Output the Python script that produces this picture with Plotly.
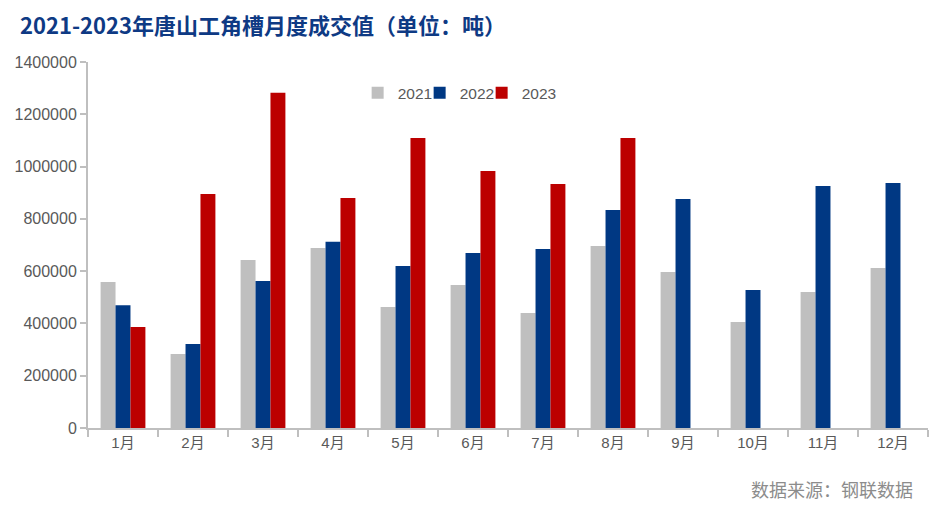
import plotly.graph_objects as go

months = ["1月", "2月", "3月", "4月", "5月", "6月", "7月", "8月", "9月", "10月", "11月", "12月"]
v2021 = [558000, 283000, 643000, 689000, 463000, 547000, 440000, 696000, 597000, 405000, 520000, 612000]
v2022 = [470000, 321000, 562000, 712000, 620000, 669000, 685000, 834000, 876000, 528000, 926000, 937000]
v2023 = [386000, 895000, 1282000, 880000, 1109000, 983000, 933000, 1109000, None, None, None, None]
y_ticks = [0, 200000, 400000, 600000, 800000, 1000000, 1200000, 1400000]

font_main = "Liberation Sans, Arial, Noto Sans CJK SC, sans-serif"

fig = go.Figure()
fig.add_trace(go.Bar(name="2021", x=months, y=v2021, marker=dict(color="#BFBFBF", line_width=0)))
fig.add_trace(go.Bar(name="2022", x=months, y=v2022, marker=dict(color="#003883", line_width=0)))
fig.add_trace(go.Bar(name="2023", x=months, y=v2023, marker=dict(color="#BC0000", line_width=0)))
# invisible spacer so the last legend text is not clipped
fig.add_trace(go.Scatter(name=" ", x=[None], y=[None], mode="markers",
                         marker=dict(color="rgba(0,0,0,0)"), hoverinfo="skip"))

fig.update_layout(
    width=929, height=499,
    margin=dict(l=80, r=9, t=54, b=79, autoexpand=False),
    paper_bgcolor="white", plot_bgcolor="white",
    barmode="group", bargap=0.36, bargroupgap=0,
    font=dict(family=font_main, color="#595959", size=16),
    legend=dict(orientation="h", x=0.321, xanchor="left", y=0.915, yanchor="middle",
                font=dict(size=15.5, color="#595959"), itemwidth=30, entrywidth=17,
                traceorder="normal", bgcolor="rgba(0,0,0,0)"),
    xaxis=dict(showline=True, linecolor="#BFBFBF", linewidth=2, ticks="outside",
               tickson="boundaries", ticklen=7, tickcolor="#BFBFBF", tickwidth=2,
               tickfont=dict(size=15, color="#595959"), showgrid=False, automargin=False),
    yaxis=dict(range=[0, 1400000], tickvals=y_ticks, ticktext=[str(v) for v in y_ticks],
               showline=True, linecolor="#BFBFBF", linewidth=2, ticks="outside",
               ticklen=6, tickcolor="#BFBFBF", tickwidth=2, showgrid=False, zeroline=False,
               tickfont=dict(size=16, color="#595959"), automargin=False),
)
fig.add_annotation(text="<b>2021-2023年唐山工角槽月度成交值（单位：吨）</b>",
                   xref="paper", yref="paper", x=-70 / 840, xanchor="left",
                   y=(499 - 79 - 16) / 366, yanchor="middle", showarrow=False,
                   font=dict(family="Noto Sans CJK SC, sans-serif", size=22, color="#0E3A84"))
fig.add_annotation(text="数据来源：钢联数据", xref="paper", yref="paper",
                   x=(907 - 80) / 840, xanchor="right", y=-61 / 366, yanchor="middle", showarrow=False,
                   font=dict(family="Noto Sans CJK SC, sans-serif", size=18, color="#8C8C8C"))
fig.write_html("out.html")
